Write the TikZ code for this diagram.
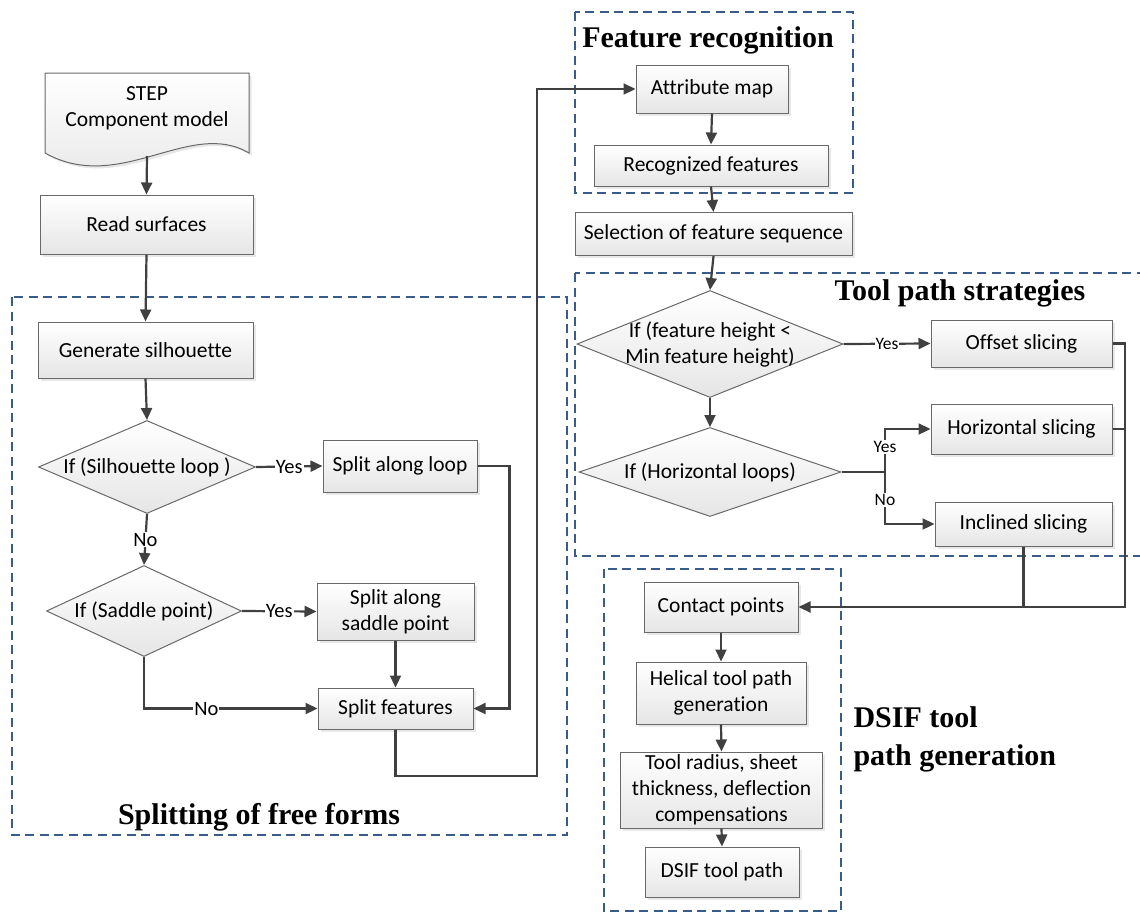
\documentclass[tikz,border=0pt]{standalone}
\usepackage{fontspec}
\setmainfont{Carlito}[Ligatures=NoCommon]
\newfontfamily\titlefont{Liberation Serif}
\usetikzlibrary{arrows.meta,shapes.geometric,shadows,calc}
\definecolor{flowline}{RGB}{64,64,64}
\definecolor{boxline}{RGB}{105,105,105}
\definecolor{groupblue}{RGB}{58,92,140}
\tikzset{
  procbox/.style={draw=boxline, line width=1pt, top color=white, bottom color=gray!20,
    drop shadow={shadow xshift=2.5pt, shadow yshift=-2.5pt, opacity=0.18},
    align=center, inner sep=2pt},
  decision/.style={diamond, draw=boxline, line width=1pt, top color=white, bottom color=gray!20,
    inner sep=0pt},
  group/.style={draw=groupblue, line width=2.4pt, dash pattern=on 9pt off 5.5pt},
  grouptitle/.style={font=\titlefont\bfseries\fontsize{30}{38}\selectfont},
  flow/.style={draw=flowline, line width=2.2pt, -{Triangle[length=12pt,width=11pt]}},
  flowplain/.style={draw=flowline, line width=2.2pt},
  yesno/.style={fill=white, inner sep=1pt, font=\fontsize{20.5}{24}\selectfont},
  yesnosmall/.style={fill=white, inner sep=1pt, font=\fontsize{17.5}{20}\selectfont}
}

\begin{document}
\begin{tikzpicture}[x=1pt, y=-1pt, font=\fontsize{21.5}{26}\selectfont]
			%%%%% START %%%%%
			\useasboundingbox (0,0) rectangle (1140,913);
			
			% dashed groups
			\draw[group] (12,297) rectangle (567,835);
			\draw[group] (575,12) rectangle (853,193);
			\draw[group] (575,273) rectangle (1150,556);
			\draw[group] (604,569) rectangle (841,911);
			
			\node[grouptitle] (ttlsplit) at (259,817) {Splitting of free forms};
			\node[grouptitle] (ttlfeat) at (708,40) {Feature recognition};
			\node[grouptitle] (ttltool) at (960,293) {Tool path strategies};
			\node[grouptitle, anchor=west, align=left] (ttldsif) at (850,739) {DSIF tool\\path generation};
			
			% STEP document
			\draw[draw=boxline, line width=1pt, top color=white, bottom color=gray!20,
			  drop shadow={shadow xshift=2.5pt, shadow yshift=-2.5pt, opacity=0.18}]
			  (45,73) -- (249,73) -- (249,153) .. controls (190,118) and (120,195) .. (45,153) -- cycle;
			\node[align=center] (step) at (147,108) {STEP\\Component model};
			\coordinate (stepbot) at (147,156);
			
			% splitting of free forms
			\node[procbox, minimum width=213pt, minimum height=59pt] (read) at (146.5,224.5) {Read surfaces};
			\node[procbox, minimum width=215pt, minimum height=56pt] (gen) at (145.5,350) {Generate silhouette};
			\node[decision, minimum width=217pt, minimum height=93pt,
			  label={[name=d1t]center:If (Silhouette loop )}] (d1) at (147,467) {};
			\node[procbox, minimum width=154pt, minimum height=52pt] (loop) at (400,466) {Split along loop};
			\node[decision, minimum width=195pt, minimum height=91pt,
			  label={[name=d2t]center:If (Saddle point)}] (d2) at (144,611) {};
			\node[procbox, minimum width=157pt, minimum height=57pt] (saddle) at (395.5,611.5) {Split along\\saddle point};
			\node[procbox, minimum width=155pt, minimum height=41pt] (splitf) at (395.5,708.5) {Split features};
			\coordinate (bend) at (537,776);
			
			% feature recognition
			\node[procbox, minimum width=152pt, minimum height=48pt] (attr) at (712,89) {Attribute map};
			\node[procbox, minimum width=234pt, minimum height=41pt] (recog) at (711,165.5) {Recognized features};
			\node[procbox, minimum width=277pt, minimum height=43pt] (select) at (713.5,234) {Selection of feature sequence};
			
			% tool path strategies
			\node[decision, minimum width=266pt, minimum height=107pt,
			  label={[name=d3t, align=center]center:If (feature height <\\Min feature height)}] (d3) at (710,344) {};
			\node[procbox, minimum width=181pt, minimum height=47pt] (offset) at (1021.5,343.5) {Offset slicing};
			\node[decision, minimum width=262pt, minimum height=89pt,
			  label={[name=d4t]center:If (Horizontal loops)}] (d4) at (710,472) {};
			\node[procbox, minimum width=181pt, minimum height=50pt] (horiz) at (1021.5,429) {Horizontal slicing};
			\node[procbox, minimum width=177pt, minimum height=44pt] (incl) at (1023.5,524) {Inclined slicing};
			\coordinate (fork) at (885,472);
			\coordinate (bus) at (1125,607);
			
			% DSIF tool path generation
			\node[procbox, minimum width=154pt, minimum height=50pt] (contact) at (721,607) {Contact points};
			\node[procbox, minimum width=170pt, minimum height=62pt] (helical) at (721,693) {Helical tool path\\generation};
			\node[procbox, minimum width=202pt, minimum height=76pt] (radius) at (721.5,790) {Tool radius, sheet\\thickness, deflection\\compensations};
			\node[procbox, minimum width=154pt, minimum height=50pt] (dsif) at (722,872) {DSIF tool path};
			
			% connectors
			\draw[flow] (stepbot) -- (read.north);
			\draw[flow] (read.south) -- (gen.north);
			\draw[flow] (gen.south) -- (d1.north);
			\draw[flow] (d1.east) -- node[yesno] (y1) {Yes} (loop.west);
			\draw[flow] (d1.south) -- node[yesno] (n1) {No} (d2.north);
			\draw[flow] (d2.east) -- node[yesno] (y2) {Yes} (saddle.west);
			\draw[flow] (saddle.south) -- (splitf.north);
			\draw[flow] (d2.south) |- node[yesno, pos=0.68] (n2) {No} (splitf.west);
			\draw[flow] (loop.east) -| ([xshift=36pt]splitf.east) -- (splitf.east);
			\draw[flow] (splitf.south) |- (bend) |- (attr.west);
			
			\draw[flow] (attr.south) -- (recog.north);
			\draw[flow] (recog.south) -- (select.north);
			\draw[flow] (select.south) -- (d3.north);
			\draw[flow] (d3.east) -- node[yesnosmall] (y3) {Yes} (offset.west);
			\draw[flow] (d3.south) -- (d4.north);
			\draw[flowplain] (d4.east) -- (fork);
			\draw[flow] (fork) |- node[yesnosmall, pos=0.29] (y4) {Yes} (horiz.west);
			\draw[flow] (fork) |- node[yesnosmall, pos=0.27] (n4) {No} (incl.west);
			
			\draw[flow] (offset.east) -| (bus) -- (contact.east);
			\draw[flowplain] (horiz.east) -- (horiz.east -| bus);
			\draw[flowplain] (incl.south) -- (incl.south |- contact.east);
			
			\draw[flow] (contact.south) -- (helical.north);
			\draw[flow] (helical.south) -- (radius.north);
			\draw[flow] (radius.south) -- (dsif.north);
			
			%%%%% END %%%%%
\end{tikzpicture}
\end{document}
